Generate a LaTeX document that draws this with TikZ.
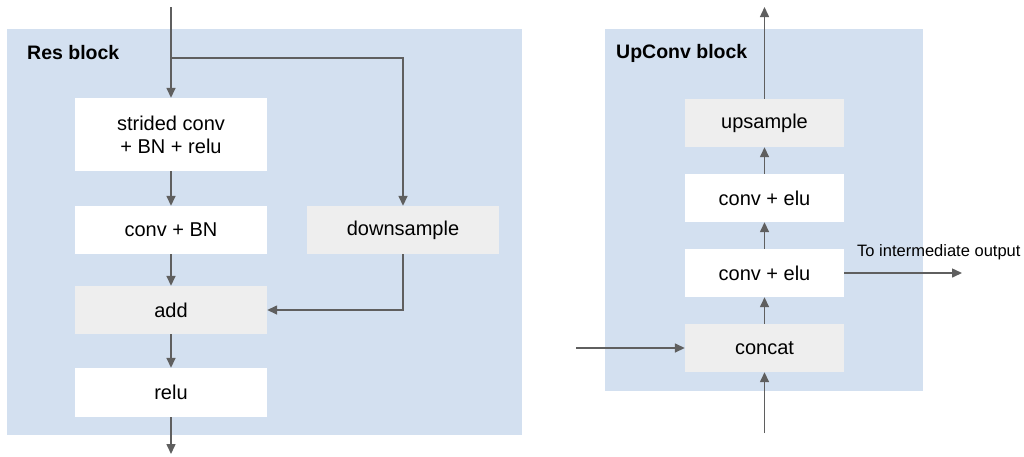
\documentclass[tikz,border=0pt]{standalone}
\usepackage{fontspec}
\setmainfont{Liberation Sans}
\usetikzlibrary{arrows.meta}
\definecolor{panelblue}{HTML}{D3E0F0}
\definecolor{graybox}{HTML}{EEEEEE}
\definecolor{arrowgray}{HTML}{5F5F5F}
\begin{document}
\begin{tikzpicture}[x=1pt,y=-1pt,
  panel/.style={fill=panelblue},
  wbox/.style={fill=white, minimum width=192pt, minimum height=48pt, inner sep=0pt, align=center, font=\fontsize{20}{23}\selectfont},
  gbox/.style={wbox, fill=graybox},
  title/.style={anchor=west, inner sep=0pt, font=\fontsize{19.5}{23}\selectfont\bfseries},
  lbl/.style={anchor=west, inner sep=0pt, font=\fontsize{16.5}{20}\selectfont},
  conn/.style={draw=arrowgray, line width=1.5pt, -{Triangle[length=10pt,width=9pt]}}
]
\useasboundingbox (0,0) rectangle (1024,456);
% panels
\fill[panel] (7,29) rectangle (522,435);
\fill[panel] (605,29) rectangle (923,391);
\node[title] (rt) at (27,53) {Res block};
\node[title] (ut) at (616,53) {UpConv block};
% res block
\node[wbox, minimum height=73pt] (s1) at (171,134.5) {strided conv\\+ BN + relu};
\node[wbox] (cb) at (171,230) {conv + BN};
\node[gbox] (add) at (171,310) {add};
\node[wbox, minimum height=49pt] (relu) at (171,392.5) {relu};
\node[gbox] (ds) at (403,230) {downsample};
\coordinate (in1) at (171,7);
\coordinate (br) at (171,58);
\coordinate (out1) at (171,454);
\draw[conn] (in1) -- (s1.north);
\draw[conn] (br) -| (ds.north);
\draw[conn] (s1.south) -- (cb.north);
\draw[conn] (cb.south) -- (add.north);
\draw[conn] (ds.south) |- (add.east);
\draw[conn] (add.south) -- (relu.north);
\draw[conn] (relu.south) -- (out1);
% upconv block
\node[gbox, minimum width=159pt] (up) at (764.5,123) {upsample};
\node[wbox, minimum width=159pt] (ce2) at (764.5,198) {conv + elu};
\node[wbox, minimum width=159pt] (ce1) at (764.5,273) {conv + elu};
\node[gbox, minimum width=159pt] (cat) at (764.5,348) {concat};
\coordinate (top2) at (764.5,7);
\coordinate (in2) at (764.5,433);
\coordinate (in3) at (576,348);
\coordinate (outp) at (962,273);
\draw[conn] (up.north) -- (top2);
\draw[conn] (ce2.north) -- (up.south);
\draw[conn] (ce1.north) -- (ce2.south);
\draw[conn] (cat.north) -- (ce1.south);
\draw[conn] (in2) -- (cat.south);
\draw[conn] (in3) -- (cat.west);
\draw[conn] (ce1.east) -- (outp);
\node[lbl] (tio) at (857,252) {To intermediate output};
\end{tikzpicture}
\end{document}
